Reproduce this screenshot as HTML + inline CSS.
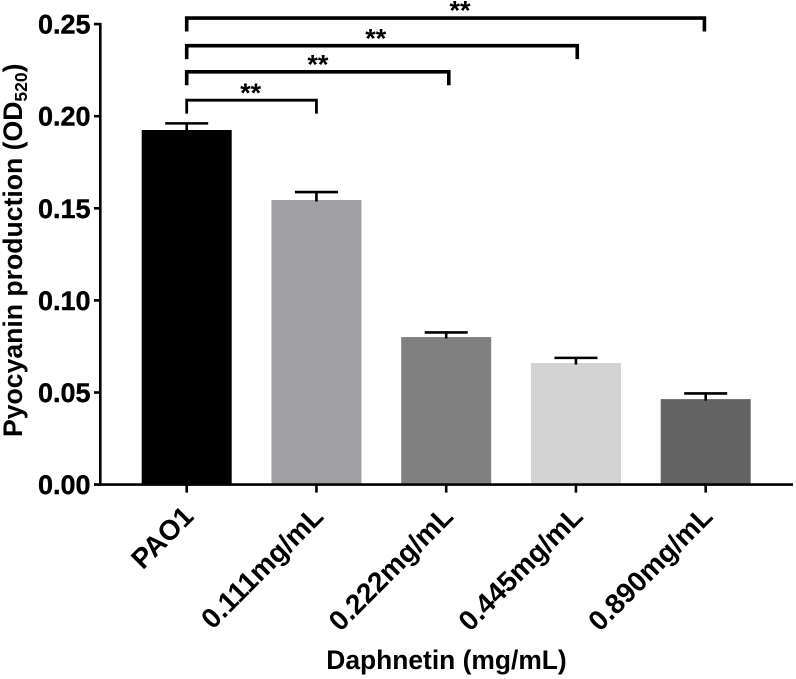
<!DOCTYPE html>
<html lang="en">
<head>
<meta charset="utf-8">
<title>Pyocyanin production</title>
<style>
html,body{margin:0;padding:0;background:#fff;}
svg{display:block;font-family:"Liberation Sans",Arial,sans-serif;font-weight:bold;fill:#000;}
</style>
</head>
<body>
<svg id="chart" width="796" height="679" viewBox="0 0 796 679" xmlns="http://www.w3.org/2000/svg">
  <rect x="0" y="0" width="796" height="679" fill="#fff"/>
  <g id="bars"></g>
  <g id="errors"></g>
  <g id="axes"></g>
  <g id="brackets"></g>
  <text x="446.5" y="669" font-size="26.4" text-anchor="middle">Daphnetin (mg/mL)</text>
  <text transform="translate(22,437) rotate(-90)" font-size="26.6">Pyocyanin production (OD<tspan font-size="17.5" dy="5">520</tspan><tspan dy="-5">)</tspan></text>
</svg>
<script>
const categories = ['PAO1', '0.111mg/mL', '0.222mg/mL', '0.445mg/mL', '0.890mg/mL'];
const means = [0.1925, 0.1545, 0.0801, 0.066, 0.0464];
const errors = [0.0036, 0.0043, 0.0025, 0.0028, 0.0031];
const barColors = ['#000000', '#a0a0a4', '#808080', '#d3d3d3', '#636363'];
const yTicks = [0, 0.05, 0.10, 0.15, 0.20, 0.25];
const bracketEnds = [1, 2.02, 3.01, 3.99];
const bracketLevels = [0.2087, 0.2241, 0.2383, 0.2533];
const bracketLabels = ['**', '**', '**', '**'];
const bracketLabelAt = [0.493, 1.011, 1.457, 2.106];

const NS = 'http://www.w3.org/2000/svg';
const x = i => 186.7 + i * 129.75;
const y = v => 484.6 - v * 1842;
const BAR_W = 90;
const CAP_W = 43;

function make(tag, parent, attrs) {
  const el = document.createElementNS(NS, tag);
  for (const k in attrs) el.setAttribute(k, attrs[k]);
  parent.appendChild(el);
  return el;
}

const barsG = document.getElementById('bars');
const errG = document.getElementById('errors');
const axesG = document.getElementById('axes');
const brG = document.getElementById('brackets');

means.forEach((m, i) => {
  const bar = make('rect', barsG, {x: x(i) - BAR_W / 2, y: y(m), width: BAR_W, height: y(0) - y(m), fill: barColors[i]});
  
  

  const top = y(m + errors[i]);
  const stem = make('line', errG, {x1: x(i), x2: x(i), y1: top, y2: y(m) + 1.5, stroke: '#000', 'stroke-width': 2.6});
  
  
  const cap = make('line', errG, {x1: x(i) - CAP_W / 2, x2: x(i) + CAP_W / 2, y1: top, y2: top, stroke: '#000', 'stroke-width': 2.6});
  
  
});

const yAxis = make('line', axesG, {x1: 100.3, x2: 100.3, y1: y(0.25) - 1.2, y2: y(0) + 1.2, stroke: '#000', 'stroke-width': 2.6});


const xAxis = make('line', axesG, {x1: 94, x2: 793, y1: y(0), y2: y(0), stroke: '#000', 'stroke-width': 2.6});



yTicks.forEach(t => {
  const tick = make('line', axesG, {x1: 94, x2: 100, y1: y(t), y2: y(t), stroke: '#000', 'stroke-width': 2.6});
  
  
  const label = make('text', axesG, {x: 90.5, y: y(t) + 9.5, 'text-anchor': 'end', 'font-size': 27, stroke: '#000', 'stroke-width': 0.4});
  
  
  label.textContent = t.toFixed(2);
});

categories.forEach((c, i) => {
  const tick = make('line', axesG, {x1: x(i), x2: x(i), y1: y(0), y2: y(0) + 8, stroke: '#000', 'stroke-width': 2.6});
  
  
  const label = make('text', axesG, {transform: 'translate(' + (x(i) + 8.5) + ',518) rotate(-45)', 'text-anchor': 'end', 'font-size': 28});
  
  
  label.textContent = c;
});

bracketLevels.forEach((lvl, i) => {
  const ly = y(lvl);
  const x0 = x(0);
  const x1 = x(bracketEnds[i]);
  const w = i === 0 ? 2.8 : 3.6;
  const path = make('path', brG, {d: 'M' + x0 + ' ' + (ly + 13.5) + 'V' + ly + 'H' + x1 + 'V' + (ly + 13.5), fill: 'none', stroke: '#000', 'stroke-width': w});
  
  
  const star = make('text', brG, {x: x(bracketLabelAt[i]), y: ly + 1.7, 'text-anchor': 'middle', 'font-size': 27});
  
  
  star.textContent = bracketLabels[i];
});
</script>
</body>
</html>
